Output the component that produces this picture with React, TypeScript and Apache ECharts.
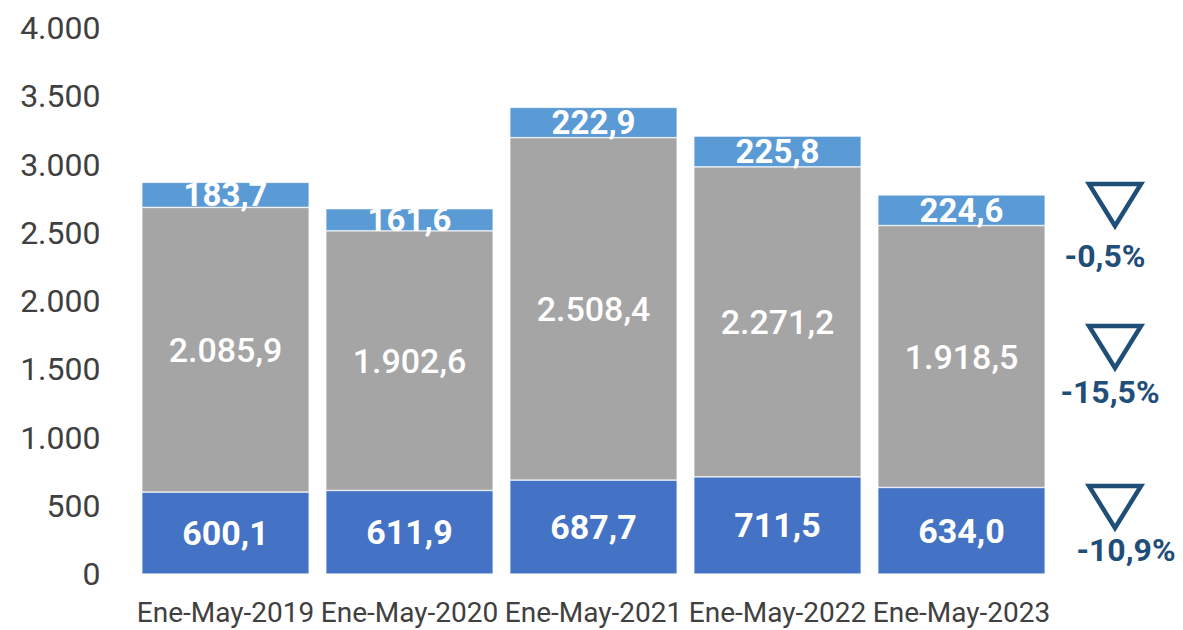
import React, { useEffect, useRef } from "react";
import * as echarts from "echarts";

const categories = ["Ene-May-2019", "Ene-May-2020", "Ene-May-2021", "Ene-May-2022", "Ene-May-2023"];
const bottomValues = [600.1, 611.9, 687.7, 711.5, 634.0];
const middleValues = [2085.9, 1902.6, 2508.4, 2271.2, 1918.5];
const topValues = [183.7, 161.6, 222.9, 225.8, 224.6];
const changeLabels = ["-0,5%", "-15,5%", "-10,9%"];
const yTicks = { min: 0, max: 4000, interval: 500 };

const FONT = "Roboto, 'Noto Sans', sans-serif";

function fmtThousands(v: number): string {
  return Math.round(v).toString().replace(/\B(?=(\d{3})+(?!\d))/g, ".");
}
function fmtDecimal(v: number): string {
  const [i, d] = v.toFixed(1).split(".");
  return fmtThousands(Number(i)) + "," + d;
}

export default function App() {
  const ref = useRef<HTMLDivElement>(null);
  useEffect(() => {
    if (!ref.current) return;
    const chart = echarts.init(ref.current, undefined, { renderer: "svg" });
    const seriesBase = (name: string, data: number[], color: string, weight: string, size: number) => ({
      name,
      type: "bar" as const,
      stack: "total",
      data,
      barCategoryGap: "9%",
      itemStyle: { color, borderColor: "rgba(255,255,255,0.6)", borderWidth: 0.75 },
      label: {
        show: true,
        position: "inside",
        color: "#ffffff",
        fontFamily: FONT,
        fontSize: size,
        fontWeight: weight,
        formatter: (p: any) => fmtDecimal(p.value),
      },
    });
    const triColor = "#1F4E79";
    const tri = (cx: number, top: number) => ({
      type: "polygon",
      shape: { points: [[cx - 26, top], [cx + 26, top], [cx, top + 42]] },
      style: { fill: "none", stroke: triColor, lineWidth: 4.5, lineJoin: "miter" },
    });
    const pct = (cx: number, cy: number, text: string) => ({
      type: "text",
      x: cx,
      y: cy,
      style: {
        text,
        fill: triColor,
        font: `bold 32px ${FONT}`,
        textAlign: "center",
        textVerticalAlign: "middle",
      },
    });
    chart.setOption({
      animation: false,
      grid: { left: 133.5, right: 129.5, top: 28, bottom: 56, containLabel: false },
      xAxis: {
        type: "category",
        data: categories,
        axisLine: { show: false },
        axisTick: { show: false },
        axisLabel: { color: "#404040", fontFamily: FONT, fontSize: 28, margin: 24, interval: 0 },
      },
      yAxis: {
        type: "value",
        min: yTicks.min,
        max: yTicks.max,
        interval: yTicks.interval,
        splitLine: { show: false },
        axisLine: { show: false },
        axisTick: { show: false },
        axisLabel: {
          color: "#404040",
          fontFamily: FONT,
          fontSize: 32,
          margin: 33,
          formatter: (v: number) => fmtThousands(v),
        },
      },
      series: [
        seriesBase("bottom", bottomValues, "#4472C4", "bold", 34),
        seriesBase("middle", middleValues, "#A5A5A5", "500", 34),
        seriesBase("top", topValues, "#5B9BD5", "bold", 33),
      ],
      graphic: [
        tri(1115, 184),
        pct(1105, 256, changeLabels[0]),
        tri(1115, 326),
        pct(1110, 392, changeLabels[1]),
        tri(1115, 486),
        pct(1126, 550, changeLabels[2]),
      ],
    });
    return () => chart.dispose();
  }, []);
  return <div ref={ref} style={{ width: 1183, height: 630, position: "absolute", left: 0, top: 0 }} />;
}
